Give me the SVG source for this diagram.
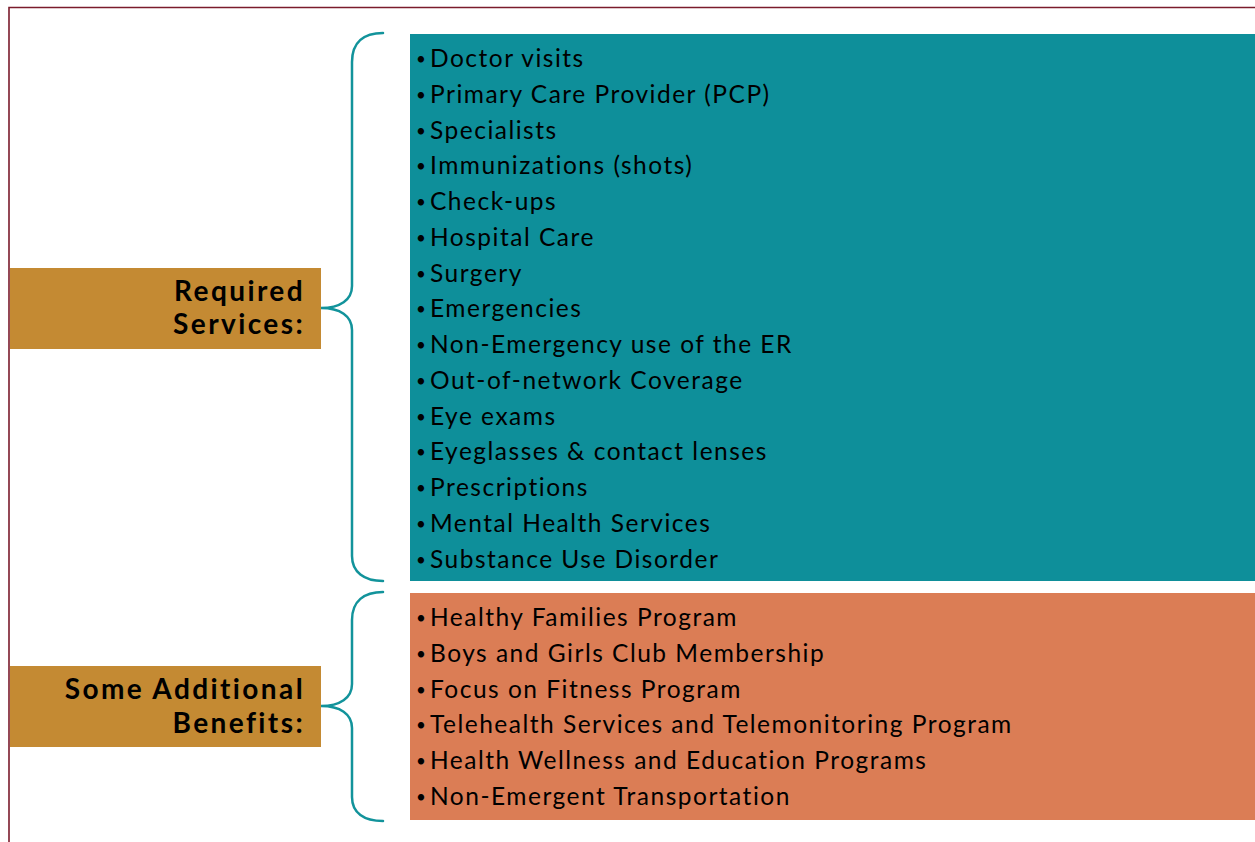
<svg xmlns="http://www.w3.org/2000/svg" width="1255" height="842" viewBox="0 0 1255 842">
<style>
.item{font-family:"Lato","Liberation Sans",sans-serif;font-size:24.5px;letter-spacing:1.5px;fill:#000}
.b{font-size:17px;letter-spacing:0}
.lbl{font-family:"Lato","Liberation Sans",sans-serif;font-size:28px;font-weight:bold;letter-spacing:2.4px;fill:#000;text-anchor:end}
.brace{fill:none;stroke:#12939b;stroke-width:2.5;stroke-linecap:round}
</style>
<rect x="0" y="0" width="1255" height="842" fill="#fff"/>
<path d="M9,842 L9,7.5 L1255,7.5" fill="none" stroke="#7b1c2c" stroke-width="1.6"/>
<g id="required-label">
<rect x="10" y="268" width="311" height="81" fill="#c48a33"/>
<text class="lbl" x="305" y="301">Required</text>
<text class="lbl" x="305" y="334">Services:</text>
</g>
<g id="additional-label">
<rect x="10" y="666" width="311" height="81" fill="#c48a33"/>
<text class="lbl" x="305" y="699">Some Additional</text>
<text class="lbl" x="305" y="733">Benefits:</text>
</g>
<g id="connectors">
<path class="brace" d="M383,33 C364,33 352,42 352,62 L352,286 C352,300 340,308 321,308 C340,308 352,316 352,330 L352,556 C352,572 364,581 383,581"/>
<path class="brace" d="M383,592 C364,592 352,601 352,620 L352,684 C352,698 340,706 321,706 C340,706 352,714 352,728 L352,797 C352,813 364,821 383,821"/>
</g>
<g id="required-services">
<rect x="410" y="34" width="845" height="547" fill="#0e8f9a"/>
<text class="item" y="67"><tspan class="b" x="416" dy="-2">•</tspan><tspan x="430" dy="2">Doctor visits</tspan></text>
<text class="item" y="102.75"><tspan class="b" x="416" dy="-2">•</tspan><tspan x="430" dy="2">Primary Care Provider (PCP)</tspan></text>
<text class="item" y="138.5"><tspan class="b" x="416" dy="-2">•</tspan><tspan x="430" dy="2">Specialists</tspan></text>
<text class="item" y="174.25"><tspan class="b" x="416" dy="-2">•</tspan><tspan x="430" dy="2">Immunizations (shots)</tspan></text>
<text class="item" y="210"><tspan class="b" x="416" dy="-2">•</tspan><tspan x="430" dy="2">Check-ups</tspan></text>
<text class="item" y="245.75"><tspan class="b" x="416" dy="-2">•</tspan><tspan x="430" dy="2">Hospital Care</tspan></text>
<text class="item" y="281.5"><tspan class="b" x="416" dy="-2">•</tspan><tspan x="430" dy="2">Surgery</tspan></text>
<text class="item" y="317.25"><tspan class="b" x="416" dy="-2">•</tspan><tspan x="430" dy="2">Emergencies</tspan></text>
<text class="item" y="353"><tspan class="b" x="416" dy="-2">•</tspan><tspan x="430" dy="2">Non-Emergency use of the ER</tspan></text>
<text class="item" y="388.75"><tspan class="b" x="416" dy="-2">•</tspan><tspan x="430" dy="2">Out-of-network Coverage</tspan></text>
<text class="item" y="424.5"><tspan class="b" x="416" dy="-2">•</tspan><tspan x="430" dy="2">Eye exams</tspan></text>
<text class="item" y="460.25"><tspan class="b" x="416" dy="-2">•</tspan><tspan x="430" dy="2">Eyeglasses &amp; contact lenses</tspan></text>
<text class="item" y="496"><tspan class="b" x="416" dy="-2">•</tspan><tspan x="430" dy="2">Prescriptions</tspan></text>
<text class="item" y="531.75"><tspan class="b" x="416" dy="-2">•</tspan><tspan x="430" dy="2">Mental Health Services</tspan></text>
<text class="item" y="567.5"><tspan class="b" x="416" dy="-2">•</tspan><tspan x="430" dy="2">Substance Use Disorder</tspan></text>
</g>
<g id="additional-benefits">
<rect x="410" y="593" width="845" height="227" fill="#db7d55"/>
<text class="item" y="626"><tspan class="b" x="416" dy="-2">•</tspan><tspan x="430" dy="2">Healthy Families Program</tspan></text>
<text class="item" y="661.75"><tspan class="b" x="416" dy="-2">•</tspan><tspan x="430" dy="2">Boys and Girls Club Membership</tspan></text>
<text class="item" y="697.5"><tspan class="b" x="416" dy="-2">•</tspan><tspan x="430" dy="2">Focus on Fitness Program</tspan></text>
<text class="item" y="733.25"><tspan class="b" x="416" dy="-2">•</tspan><tspan x="430" dy="2">Telehealth Services and Telemonitoring Program</tspan></text>
<text class="item" y="769"><tspan class="b" x="416" dy="-2">•</tspan><tspan x="430" dy="2">Health Wellness and Education Programs</tspan></text>
<text class="item" y="804.75"><tspan class="b" x="416" dy="-2">•</tspan><tspan x="430" dy="2">Non-Emergent Transportation</tspan></text>
</g>
</svg>
